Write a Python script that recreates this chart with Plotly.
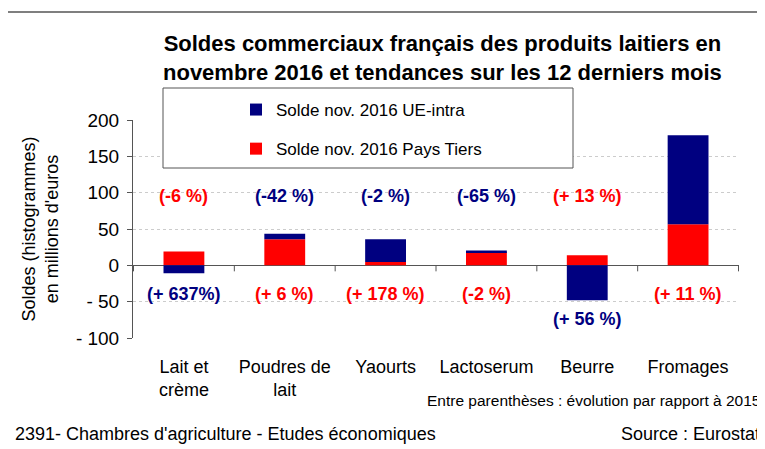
import plotly.graph_objects as go

categories = ["Lait et<br>crème", "Poudres de<br>lait", "Yaourts", "Lactoserum", "Beurre", "Fromages"]
pays_tiers = [19, 36, 4.5, 18, 14, 56.5]
ue_intra = [-11, 7.5, 31.5, 2.5, -48, 122.5]

top_labels = ["(-6 %)", "(-42 %)", "(-2 %)", "(-65 %)", "(+ 13 %)", "(-6 %)"]
top_colors = ["red", "blue", "blue", "blue", "red", "blue"]
top_y = [95, 95, 95, 95, 95, 205]
bottom_labels = ["(+ 637%)", "(+ 6 %)", "(+ 178 %)", "(-2 %)", "(+ 56 %)", "(+ 11 %)"]
bottom_colors = ["blue", "red", "red", "red", "blue", "red"]
bottom_y = [-40, -40, -40, -40, -74, -40]

y_tickvals = [200, 150, 100, 50, 0, -50, -100]
y_ticktext = ["200", "150", "100", "50", "0", "- 50", "- 100"]

BLUE = "#000080"
RED = "#FF0000"
cmap = {"red": RED, "blue": BLUE}

# page body has an 8px default margin: shrink the figure to compensate
OFF = 8
W, H = 765 - OFF, 449 - OFF
L, R, T, B = 133 - OFF, 26, 120 - OFF, 111
pw, ph = W - L - R, H - T - B

def px(x):  # reference-pixel x -> paper
    return (x - 133) / pw

def py(y):  # reference-pixel y -> paper
    return (338 - y) / ph

fig = go.Figure()
fig.add_trace(go.Bar(x=categories, y=pays_tiers, name="Solde nov. 2016 Pays Tiers",
                     marker=dict(color=RED, line=dict(width=0)), legendrank=2, legendgroup="b"))
fig.add_trace(go.Bar(x=categories, y=ue_intra, name="Solde nov. 2016 UE-intra",
                     marker=dict(color=BLUE, line=dict(width=0)), legendrank=1, legendgroup="a"))

SANS = "Liberation Sans, Arial, sans-serif"

annotations = []
for c, t, col, yy in zip(categories, top_labels, top_colors, top_y):
    annotations.append(dict(x=c, y=yy, xref="x", yref="y", text="<b>%s</b>" % t, showarrow=False,
                            font=dict(family=SANS, size=18, color=cmap[col])))
for c, t, col, yy in zip(categories, bottom_labels, bottom_colors, bottom_y):
    annotations.append(dict(x=c, y=yy, xref="x", yref="y", text="<b>%s</b>" % t, showarrow=False,
                            font=dict(family=SANS, size=18, color=cmap[col])))

annotations.append(dict(x=px(442), y=py(58), xref="paper", yref="paper",
                        text="<b>Soldes commerciaux français des produits laitiers en<br>novembre 2016 et tendances sur les 12 derniers mois</b>",
                        showarrow=False, xanchor="center", yanchor="middle", align="center",
                        font=dict(family=SANS, size=22, color="black")))
annotations.append(dict(x=px(762), y=py(400), xref="paper", yref="paper",
                        text="Entre parenthèses : évolution par rapport à 2015", showarrow=False,
                        xanchor="right", yanchor="middle", font=dict(family=SANS, size=15.5, color="black")))
annotations.append(dict(x=px(13), y=py(434), xref="paper", yref="paper",
                        text="2391- Chambres d'agriculture - Etudes économiques", showarrow=False,
                        xanchor="left", yanchor="middle", font=dict(family=SANS, size=18, color="black")))
annotations.append(dict(x=px(762), y=py(434), xref="paper", yref="paper",
                        text="Source : Eurostat", showarrow=False,
                        xanchor="right", yanchor="middle", font=dict(family=SANS, size=18, color="black")))

shapes = []
# outer frame
shapes.append(dict(type="rect", xref="paper", yref="paper", x0=px(7), x1=px(775), y0=py(470), y1=py(12),
                   line=dict(color="#555555", width=1.5), layer="below"))
# legend box
shapes.append(dict(type="rect", xref="paper", yref="paper", x0=px(163), x1=px(573), y0=py(168), y1=py(88),
                   line=dict(color="#555555", width=1), fillcolor="white", layer="above"))
# category boundary ticks on the zero line
for i in range(len(categories) + 1):
    shapes.append(dict(type="line", xref="x", yref="y", xsizemode="scaled", ysizemode="pixel",
                       yanchor=0, x0=i - 0.5, x1=i - 0.5, y0=0, y1=-6, line=dict(color="#555555", width=1)))

fig.update_layout(
    width=W, height=H,
    margin=dict(l=L, r=R, t=T, b=B),
    paper_bgcolor="white", plot_bgcolor="white",
    barmode="relative", bargap=0.595,
    showlegend=True,
    legend=dict(x=px(236), y=py(92), xanchor="left", yanchor="top", bgcolor="rgba(0,0,0,0)",
                font=dict(family=SANS, size=17, color="black"), tracegroupgap=14,
                traceorder="grouped", itemwidth=30),
    annotations=annotations,
    shapes=shapes,
    xaxis=dict(type="category", showline=False, ticks="", showgrid=False,
               tickfont=dict(family=SANS, size=18, color="black"), ticklabelstandoff=16),
    yaxis=dict(range=[-100, 200], tickvals=y_tickvals, ticktext=y_ticktext,
               showline=True, linecolor="#555555", linewidth=1, ticks="outside", ticklen=5, tickcolor="#555555",
               ticklabelstandoff=4,
               showgrid=True, gridcolor="#cccccc", griddash="dot", gridwidth=1,
               zeroline=True, zerolinecolor="#555555", zerolinewidth=1,
               tickfont=dict(family=SANS, size=19, color="black"),
               title=dict(text="Soldes (histogrammes)<br>en millions d'euros", standoff=12,
                          font=dict(family=SANS, size=18, color="black"))),
)

fig.write_html("out.html")
